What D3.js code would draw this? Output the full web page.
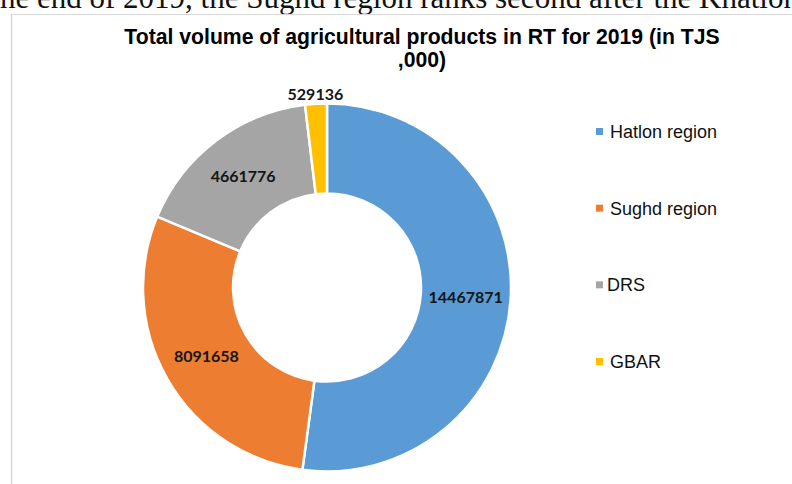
<!DOCTYPE html>
<html>
<head>
<meta charset="utf-8">
<script src="https://cdn.jsdelivr.net/npm/d3@7"></script>
<style>
  html, body { margin: 0; padding: 0; background: #fff; overflow: hidden; }
  svg { display: block; }
</style>
</head>
<body>
<svg id="chart" width="792" height="484"></svg>
<script>
// Agricultural output by region, Republic of Tajikistan, 2019 (TJS thousand)
const regions = ["Hatlon region", "Sughd region", "DRS", "GBAR"];
const volumes = [14467871, 8091658, 4661776, 529136];
const colors  = ["#5B9BD5", "#ED7D31", "#A5A5A5", "#FFC000"];
const titleLines = ["Total volume of agricultural products in RT for 2019 (in TJS", ",000)"];
const bodyText = "he end of 2019, the Sughd region ranks second after the Khatlon region";

const svg = d3.select("#chart");
const W = 792, H = 484;

// surrounding document text, clipped by the top edge
svg.append("text")
  .attr("x", 0).attr("y", 8)
  .attr("font-family", "'Liberation Serif', 'Times New Roman', serif")
  .attr("font-size", 31)
  .attr("fill", "#111")
  .text(bodyText);

// chart area frame (top and left edges visible)
svg.append("line").attr("x1", 11).attr("x2", W).attr("y1", 14.5).attr("y2", 14.5)
  .attr("stroke", "#d9d9d9").attr("stroke-width", 1);
svg.append("line").attr("x1", 11.5).attr("x2", 11.5).attr("y1", 14).attr("y2", H)
  .attr("stroke", "#d0d0d0").attr("stroke-width", 1.2);

// title
const title = svg.append("text")
  .attr("text-anchor", "middle")
  .attr("font-family", "'Liberation Sans', Arial, sans-serif")
  .attr("font-weight", "bold")
  .attr("font-size", 21.2)
  .attr("fill", "#000");
title.selectAll("tspan").data(titleLines).join("tspan")
  .attr("x", 422).attr("y", (d, i) => 44 + i * 23)
  .text(d => d);

// donut
const cx = 327, cy = 287.5, outerR = 184, innerR = 94;
const pie = d3.pie().sort(null).value(d => d).startAngle(0).endAngle(2 * Math.PI);
const arcs = pie(volumes);
const arc = d3.arc().innerRadius(innerR).outerRadius(outerR);
const labelArc = d3.arc().innerRadius((innerR + outerR) / 2).outerRadius((innerR + outerR) / 2);
const outsideArc = d3.arc().innerRadius(outerR + 10).outerRadius(outerR + 10);

const g = svg.append("g").attr("transform", `translate(${cx},${cy})`);
g.selectAll("path").data(arcs).join("path")
  .attr("d", arc)
  .attr("fill", (d, i) => colors[i])
  .attr("stroke", "#fff")
  .attr("stroke-width", 2.5)
  .attr("stroke-linejoin", "round");

// data labels: inside the ring, or just outside for the thin slice
g.selectAll("text.val").data(arcs).join("text")
  .attr("class", "val")
  .attr("transform", d => {
    const small = (d.endAngle - d.startAngle) < 0.3;
    const [x, y] = small ? outsideArc.centroid(d) : labelArc.centroid(d);
    return `translate(${x},${y})`;
  })
  .attr("text-anchor", "middle")
  .attr("dy", "0.36em")
  .attr("font-family", "Lato, 'Open Sans', sans-serif")
  .attr("font-weight", "bold")
  .attr("font-size", 16)
  .attr("fill", "#151515")
  .text(d => d.value);

// legend
const legend = svg.append("g");
const legendY = d3.scalePoint().domain(regions).range([138, 368]);
const rows = legend.selectAll("g").data(regions).join("g")
  .attr("transform", d => `translate(596,${legendY(d)})`);
rows.append("rect")
  .attr("x", 0).attr("y", -10).attr("width", 7).attr("height", 7)
  .attr("fill", (d, i) => colors[i]);
rows.append("text")
  .attr("x", (d, i) => i === 2 ? 11 : 14).attr("y", 0)
  .attr("font-family", "'Liberation Sans', Arial, sans-serif")
  .attr("font-size", 18)
  .attr("fill", "#111")
  .text(d => d);
</script>
</body>
</html>
